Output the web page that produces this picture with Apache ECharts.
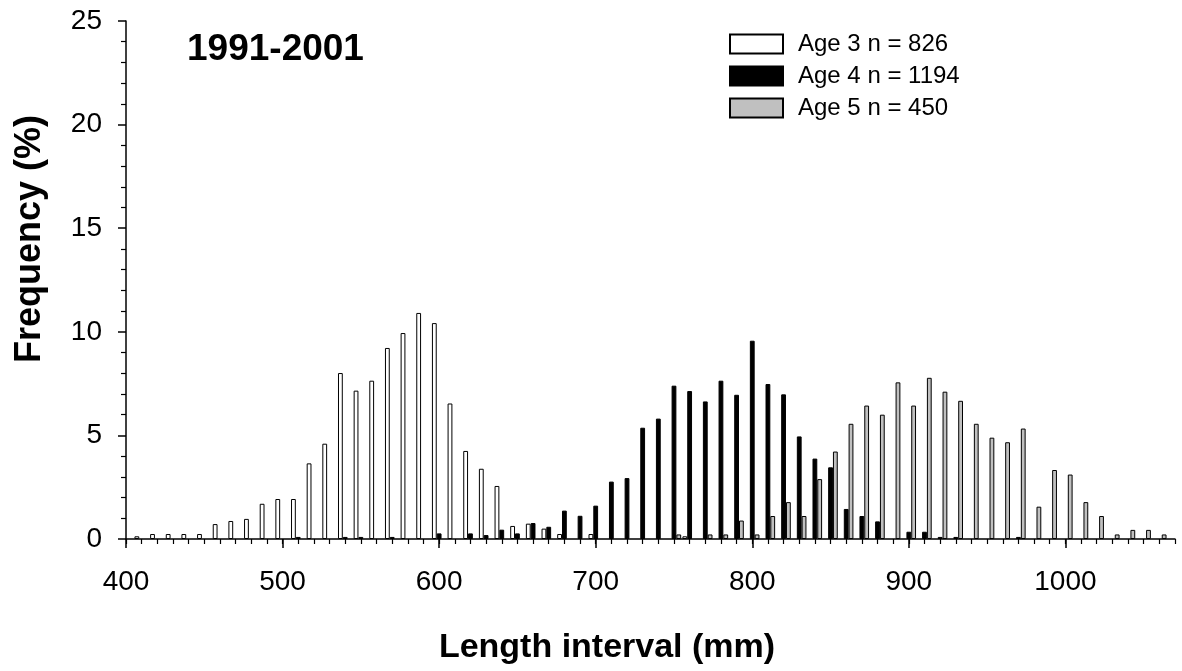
<!DOCTYPE html>
<html>
<head>
<meta charset="utf-8">
<script src="https://cdn.jsdelivr.net/npm/echarts@6/dist/echarts.min.js"></script>
<style>
html,body{margin:0;padding:0;background:#fff;}
#chart{width:1182px;height:671px;}
</style>
</head>
<body>
<div id="chart"></div>
<script>
// Length interval (mm) – midpoint of each 10 mm class
const lengths = [410,420,430,440,450,460,470,480,490,500,510,520,530,540,550,560,570,580,590,600,
  610,620,630,640,650,660,670,680,690,700,710,720,730,740,750,760,770,780,790,800,
  810,820,830,840,850,860,870,880,890,900,910,920,930,940,950,960,970,980,990,1000,
  1010,1020,1030,1040,1050,1060];

const age3 = [0.13,0.24,0.24,0.24,0.24,0.72,0.87,0.97,1.70,1.93,1.93,3.65,4.60,8.01,7.16,7.64,9.22,9.94,10.91,10.42,
  6.54,4.25,3.39,2.56,0.63,0.74,0.50,0.24,0,0.24,0,0,0,0,0,0.13,0,0,0,0,
  0,0,0,0,0,0,0,0,0,0,0,0,0,0,0,0,0,0,0,0,
  0,0,0,0,0,0];

const age4 = [0,0,0,0,0,0,0,0,0,0,0.10,0,0,0.10,0.10,0,0.10,0,0,0.27,
  0,0.27,0.19,0.45,0.27,0.77,0.59,1.37,1.12,1.61,2.77,2.94,5.37,5.81,7.40,7.14,6.64,7.64,6.96,9.57,
  7.48,6.98,4.95,3.88,3.46,1.45,1.11,0.85,0,0.35,0.35,0.10,0.10,0,0,0,0.10,0,0,0,
  0,0,0,0,0,0];

const age5 = [0,0,0,0,0,0,0,0,0,0,0,0,0,0,0,0,0,0,0,0,
  0,0,0,0,0,0,0,0,0,0,0,0,0,0,0.22,0,0.22,0.22,0.89,0.22,
  1.11,1.78,1.11,2.89,4.22,5.56,6.44,6.00,7.56,6.44,7.78,7.11,6.67,5.56,4.89,4.67,5.33,1.56,3.33,3.11,
  1.78,1.11,0.22,0.44,0.44,0.22];

const seriesNames = ['Age 3 n = 826','Age 4 n = 1194','Age 5 n = 450'];
const majorTicks = [400,500,600,700,800,900,1000];
const yTicks = [0,5,10,15,20,25];
const title = '1991-2001';
const xName = 'Length interval (mm)';
const yName = 'Frequency (%)';

const FONT = '"Liberation Sans", Arial, Helvetica, sans-serif';

function pairs(vals){
  const out = [];
  lengths.forEach((x,i)=>{ if (vals[i] > 0) out.push([x, vals[i]]); });
  return out;
}

const fills = ['#ffffff','#000000','#c0c0c0'];
const seriesVals = [age3, age4, age5];

const chart = echarts.init(document.getElementById('chart'), null, {renderer:'canvas'});
const option = {
  animation: false,
  backgroundColor: '#fff',
  grid: {left:126, right:7, top:21, bottom:132, containLabel:false},
  legend: {
    orient:'vertical', left:724, top:27,
    itemWidth:53, itemHeight:19, itemGap:8,
    icon:'rect',
    selectedMode:false,
    textStyle:{fontFamily:FONT, fontSize:24, color:'#000', padding:[0,0,0,10]},
    data: seriesNames
  },
  xAxis: [{
    type:'value', min:400, max:1070, interval:10,
    axisLine:{show:true, onZero:false, lineStyle:{color:'#000', width:1.5}},
    axisTick:{show:true, customValues: majorTicks, length:9, lineStyle:{color:'#000', width:1.5}},
    axisLabel:{show:true, customValues: majorTicks, margin:29, fontFamily:FONT, fontSize:28, color:'#000',
      formatter: v => String(v)},
    splitLine:{show:false}
  },{
    type:'value', min:400, max:1070, interval:10, position:'bottom', offset:0,
    axisLine:{show:false},
    axisTick:{show:true, length:5, lineStyle:{color:'#000', width:1.2}},
    axisLabel:{show:false},
    splitLine:{show:false}
  }],
  yAxis: {
    type:'value', min:0, max:25, interval:5,
    axisLine:{show:true, lineStyle:{color:'#000', width:1.5}},
    axisTick:{show:true, length:8, lineStyle:{color:'#000', width:1.5}},
    minorTick:{show:true, splitNumber:5, length:5, lineStyle:{color:'#000', width:1.2}},
    axisLabel:{margin:24, fontFamily:FONT, fontSize:28, color:'#000', formatter: v => String(v)},
    splitLine:{show:false}, minorSplitLine:{show:false}
  },
  graphic: [
    {type:'text', left:187, top:31, style:{text:title, font:'bold 37px '+FONT, fill:'#000'}},
    {type:'text', x:30, y:239, rotation:Math.PI/2,
     style:{text:yName, font:'bold 36px '+FONT, fill:'#000', align:'center', verticalAlign:'middle'}},
    {type:'text', x:607, y:648,
     style:{text:xName, font:'bold 34px '+FONT, fill:'#000', align:'center', verticalAlign:'middle'}}
  ],
  series: seriesNames.map((n,i)=>({
    name:n, type:'bar', xAxisIndex:0,
    barWidth:4.8, barGap:'0%',
    itemStyle:{color:fills[i], borderColor:'#000', borderWidth:1},
    data: pairs(seriesVals[i])
  }))
};
chart.setOption(option);
</script>
</body>
</html>
